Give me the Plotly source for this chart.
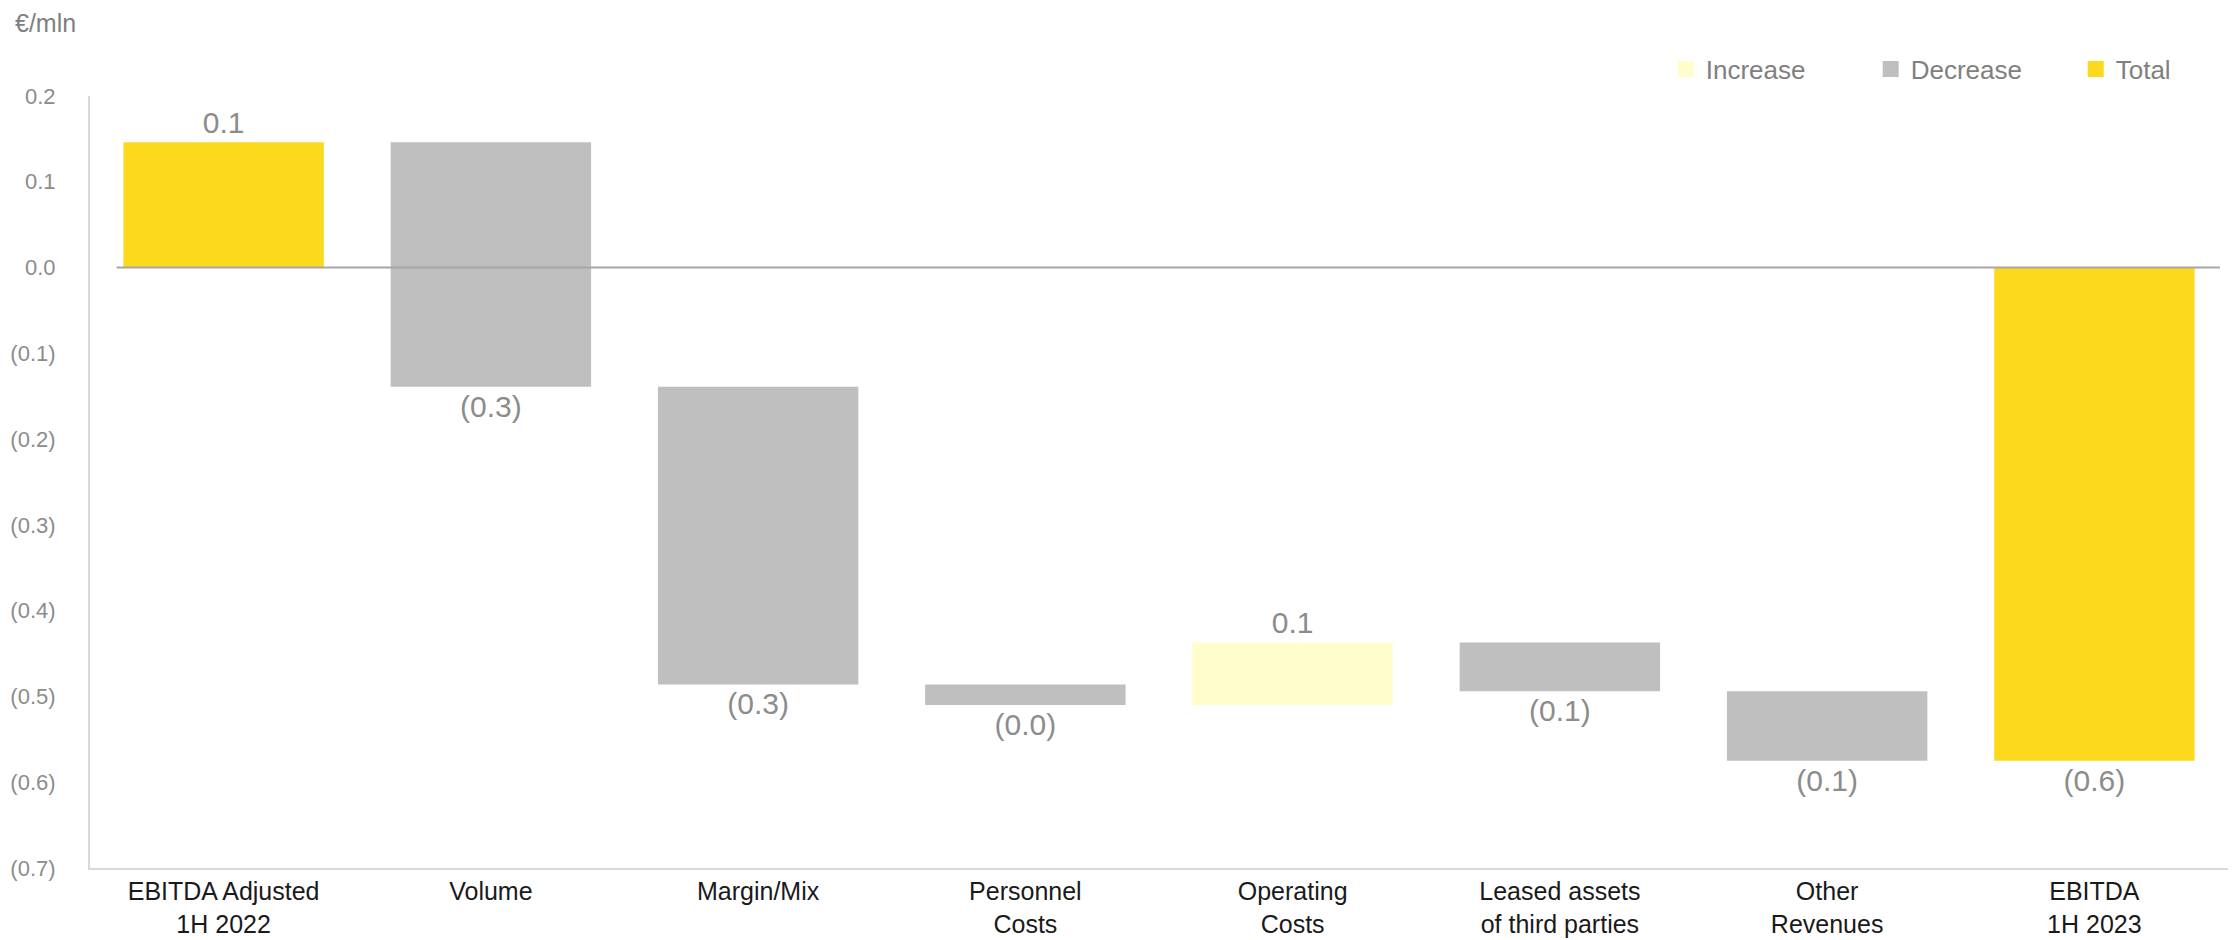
import plotly.graph_objects as go

categories = ["EBITDA Adjusted<br>1H 2022", "Volume", "Margin/Mix", "Personnel<br>Costs",
              "Operating<br>Costs", "Leased assets<br>of third parties", "Other<br>Revenues",
              "EBITDA<br>1H 2023"]
values = [0.146, -0.285, -0.347, -0.024, 0.073, -0.057, -0.081, -0.575]
measures = ["absolute", "relative", "relative", "relative", "relative", "relative", "relative", "total"]
labels = ["0.1", "(0.3)", "(0.3)", "(0.0)", "0.1", "(0.1)", "(0.1)", "(0.6)"]
tick_vals = [-0.7, -0.6, -0.5, -0.4, -0.3, -0.2, -0.1, 0.0, 0.1, 0.2]
tick_text = ["(0.7)", "(0.6)", "(0.5)", "(0.4)", "(0.3)", "(0.2)", "(0.1)", "0.0", "0.1", "0.2"]

C_INC = "#FFFDCC"
C_DEC = "#BFBFBF"
C_TOT = "#FDD91E"
FONT = "Liberation Sans, Arial, sans-serif"

fig = go.Figure()
fig.add_trace(go.Waterfall(
    x=categories, y=values, measure=measures,
    text=labels, textposition="outside",
    textfont=dict(size=30, color="#8C8C8C", family=FONT),
    increasing=dict(marker=dict(color=C_INC)),
    decreasing=dict(marker=dict(color=C_DEC)),
    totals=dict(marker=dict(color=C_TOT)),
    connector=dict(visible=False),
    width=0.75, cliponaxis=False, showlegend=False,
))
for name, col in [("Increase", C_INC), ("Decrease", C_DEC), ("Total", C_TOT)]:
    fig.add_trace(go.Scatter(x=[None], y=[None], mode="markers", name=name,
                             marker=dict(symbol="square", size=20, color=col)))

fig.add_shape(type="line", xref="x", yref="y", x0=-0.4, x1=7.47, y0=0, y1=0,
              line=dict(color="#A6A6A6", width=2))

fig.update_layout(
    width=2239, height=940,
    margin=dict(l=82, r=19, t=88, b=80, autoexpand=False),
    paper_bgcolor="white", plot_bgcolor="white",
    font=dict(family=FONT, color="#8C8C8C"),
    legend=dict(orientation="h", x=0.737, xanchor="left", y=1.035, yanchor="middle",
                font=dict(size=26, color="#808080"), entrywidth=160, entrywidthmode="pixels",
                bgcolor="rgba(0,0,0,0)"),
    annotations=[dict(text="€/mln", xref="paper", yref="paper", x=-0.036, y=1.095,
                      xanchor="left", yanchor="middle", showarrow=False,
                      font=dict(size=25, color="#808080", family=FONT))],
)
fig.update_xaxes(showline=True, linecolor="#D9D9D9", linewidth=2, showgrid=False, automargin=False,
                 tickfont=dict(size=25, color="#1A1A1A", family=FONT), ticks="")
fig.update_yaxes(range=[-0.7, 0.2], tickvals=tick_vals, ticktext=tick_text, automargin=False,
                 showline=True, linecolor="#D9D9D9", linewidth=2, showgrid=False,
                 zeroline=False, ticks="outside", ticklen=28, tickcolor="rgba(0,0,0,0)",
                 tickfont=dict(size=22, color="#8C8C8C", family=FONT))

fig.write_html("out.html")
